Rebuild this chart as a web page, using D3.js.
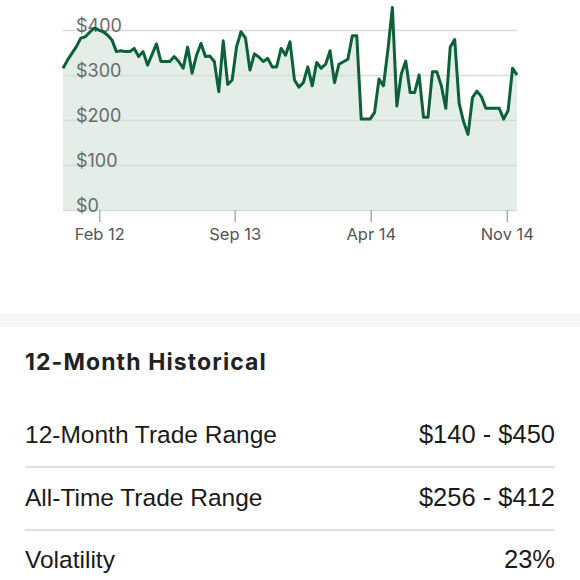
<!DOCTYPE html>
<html>
<head>
<meta charset="utf-8">
<script src="https://cdn.jsdelivr.net/npm/d3@7"></script>
<style>
  body { margin: 0; background: #fff; }
  svg { display: block; font-family: "Liberation Sans", Arial, sans-serif; }
</style>
</head>
<body>
<div id="chart"></div>
<script>
var svgWidth = 580;
var svgHeight = 580;

// weekly prices
var dates = [
  "2022-12-17", "2022-12-24", "2023-01-07", "2023-01-14", "2023-01-21", "2023-01-28", "2023-02-04",
  "2023-02-18", "2023-02-25", "2023-03-04", "2023-03-11", "2023-03-18", "2023-03-25", "2023-04-01",
  "2023-04-08", "2023-04-15", "2023-04-22", "2023-04-29", "2023-05-13", "2023-05-20", "2023-05-27",
  "2023-06-03", "2023-06-10", "2023-06-17", "2023-06-24", "2023-07-01", "2023-07-08", "2023-07-15",
  "2023-07-22", "2023-07-29", "2023-08-05", "2023-08-12", "2023-08-19", "2023-08-26", "2023-09-02",
  "2023-09-09", "2023-09-16", "2023-09-23", "2023-09-30", "2023-10-07", "2023-10-14", "2023-10-21",
  "2023-10-28", "2023-11-04", "2023-11-11", "2023-11-18", "2023-11-25", "2023-12-02", "2023-12-09",
  "2023-12-16", "2023-12-23", "2023-12-30", "2024-01-06", "2024-01-13", "2024-01-20", "2024-01-27",
  "2024-02-03", "2024-02-10", "2024-02-17", "2024-02-24", "2024-03-09", "2024-03-16", "2024-03-23",
  "2024-03-30", "2024-04-06", "2024-04-13", "2024-04-20", "2024-04-27", "2024-05-04", "2024-05-11",
  "2024-05-18", "2024-05-25", "2024-06-01", "2024-06-08", "2024-06-15", "2024-06-22", "2024-06-29",
  "2024-07-06", "2024-07-13", "2024-07-20", "2024-07-27", "2024-08-03", "2024-08-10", "2024-08-17",
  "2024-08-24", "2024-08-31", "2024-09-07", "2024-09-14", "2024-09-21", "2024-09-28", "2024-10-05",
  "2024-10-12", "2024-10-19", "2024-10-26", "2024-11-02", "2024-11-09", "2024-11-16", "2024-11-23",
  "2024-11-30"
];

var prices = [
  315, 333, 363, 382, 385, 395, 404,
  396, 389, 378, 352, 354, 352, 352,
  359, 341, 352, 322, 369, 330, 330,
  330, 341, 330, 315, 362, 304, 344,
  370, 341, 342, 330, 263, 376, 279,
  289, 363, 396, 382, 311, 347, 340,
  330, 337, 318, 318, 359, 344, 374,
  289, 273, 283, 318, 276, 328, 315,
  324, 354, 283, 324, 335, 387, 387,
  202, 202, 202, 217, 291, 276, 356,
  450, 231, 302, 331, 261, 261, 300,
  206, 206, 307, 307, 276, 226, 362,
  379, 237, 196, 168, 250, 264, 252,
  226, 226, 226, 226, 202, 221, 315,
  300
];

var yTicks = [0, 100, 200, 300, 400];
var xTickDates = ["2023-02-12", "2023-09-13", "2024-04-14", "2024-11-14"];
var xTickLabels = ["Feb 12", "Sep 13", "Apr 14", "Nov 14"];

var statLabels = ["12-Month Trade Range", "All-Time Trade Range", "Volatility"];
var statValues = ["$140 - $450", "$256 - $412", "23%"];

var parseDate = d3.timeParse("%Y-%m-%d");

var series = dates.map(function(d, i) {
  return { date: parseDate(d), price: prices[i] };
});

var svg = d3.select("#chart").append("svg")
    .attr("width", svgWidth)
    .attr("height", svgHeight);

var xScale = d3.scaleTime()
    .domain(d3.extent(series, d => d.date))
    .range([63, 517]);

var yScale = d3.scaleLinear()
    .domain([0, 400])
    .range([210, 30]);

// area fill
var area = d3.area()
    .x(d => xScale(d.date))
    .y0(yScale(0))
    .y1(d => yScale(d.price));

svg.append("path")
    .datum(series)
    .attr("fill", "#e4eee9")
    .attr("d", area);

// gridlines + y labels
var yAxis = d3.axisLeft(yScale)
    .tickValues(yTicks)
    .tickSize(-454)
    .tickFormat(d => "$" + d);

var yAxisGroup = svg.append("g")
    .attr("transform", "translate(63,0)")
    .call(yAxis);

yAxisGroup.select(".domain").remove();
yAxisGroup.selectAll("line")
    .attr("stroke", "#d9dcda")
    .attr("stroke-width", 1.5);
yAxisGroup.selectAll("text")
    .attr("x", 13)
    .attr("dy", 0)
    .attr("y", 1)
    .attr("text-anchor", "start")
    .attr("fill", "#6a6a6a")
    .attr("font-size", "18px")
    .attr("font-family", "Inter, sans-serif");

// line
var line = d3.line()
    .x(d => xScale(d.date))
    .y(d => yScale(d.price));

svg.append("path")
    .datum(series)
    .attr("fill", "none")
    .attr("stroke", "#0c6139")
    .attr("stroke-width", 3)
    .attr("stroke-linejoin", "round")
    .attr("d", line);

// x axis
var xAxis = d3.axisBottom(xScale)
    .tickValues(xTickDates.map(parseDate))
    .tickSize(12)
    .tickPadding(6)
    .tickFormat((d, i) => xTickLabels[i]);

var xAxisGroup = svg.append("g")
    .attr("transform", `translate(0, ${yScale(0)})`)
    .call(xAxis);

xAxisGroup.select(".domain").remove();
xAxisGroup.selectAll("line")
    .attr("stroke", "#a9aeb3")
    .attr("stroke-width", 1.5);
xAxisGroup.selectAll("text")
    .attr("fill", "#555")
    .attr("font-size", "16.5px")
    .attr("font-family", "Inter, sans-serif");

// separator band
svg.append("rect")
    .attr("x", 0)
    .attr("y", 314)
    .attr("width", svgWidth)
    .attr("height", 13)
    .attr("fill", "#f7f7f7");

svg.append("text")
    .attr("x", 25)
    .attr("y", 370)
    .attr("font-size", "23px")
    .attr("font-weight", 700)
    .attr("font-family", "Inter, sans-serif")
    .attr("letter-spacing", "1.1px")
    .attr("fill", "#222")
    .text("12-Month Historical");

var rowY = [443, 506, 568];

statLabels.forEach(function(label, i) {
  svg.append("text")
      .attr("x", 25)
      .attr("y", rowY[i])
      .attr("font-size", "24.5px")
      .attr("fill", "#1a1a1a")
      .text(label);

  svg.append("text")
      .attr("x", 555)
      .attr("y", rowY[i])
      .attr("text-anchor", "end")
      .attr("font-size", "25.5px")
      .attr("fill", "#1a1a1a")
      .text(statValues[i]);

  if (i < statLabels.length - 1) {
    svg.append("line")
        .attr("x1", 25)
        .attr("x2", 555)
        .attr("y1", rowY[i] + 24)
        .attr("y2", rowY[i] + 24)
        .attr("stroke", "#d6d6d6")
        .attr("stroke-width", 1.5);
  }
});
</script>
</body>
</html>
